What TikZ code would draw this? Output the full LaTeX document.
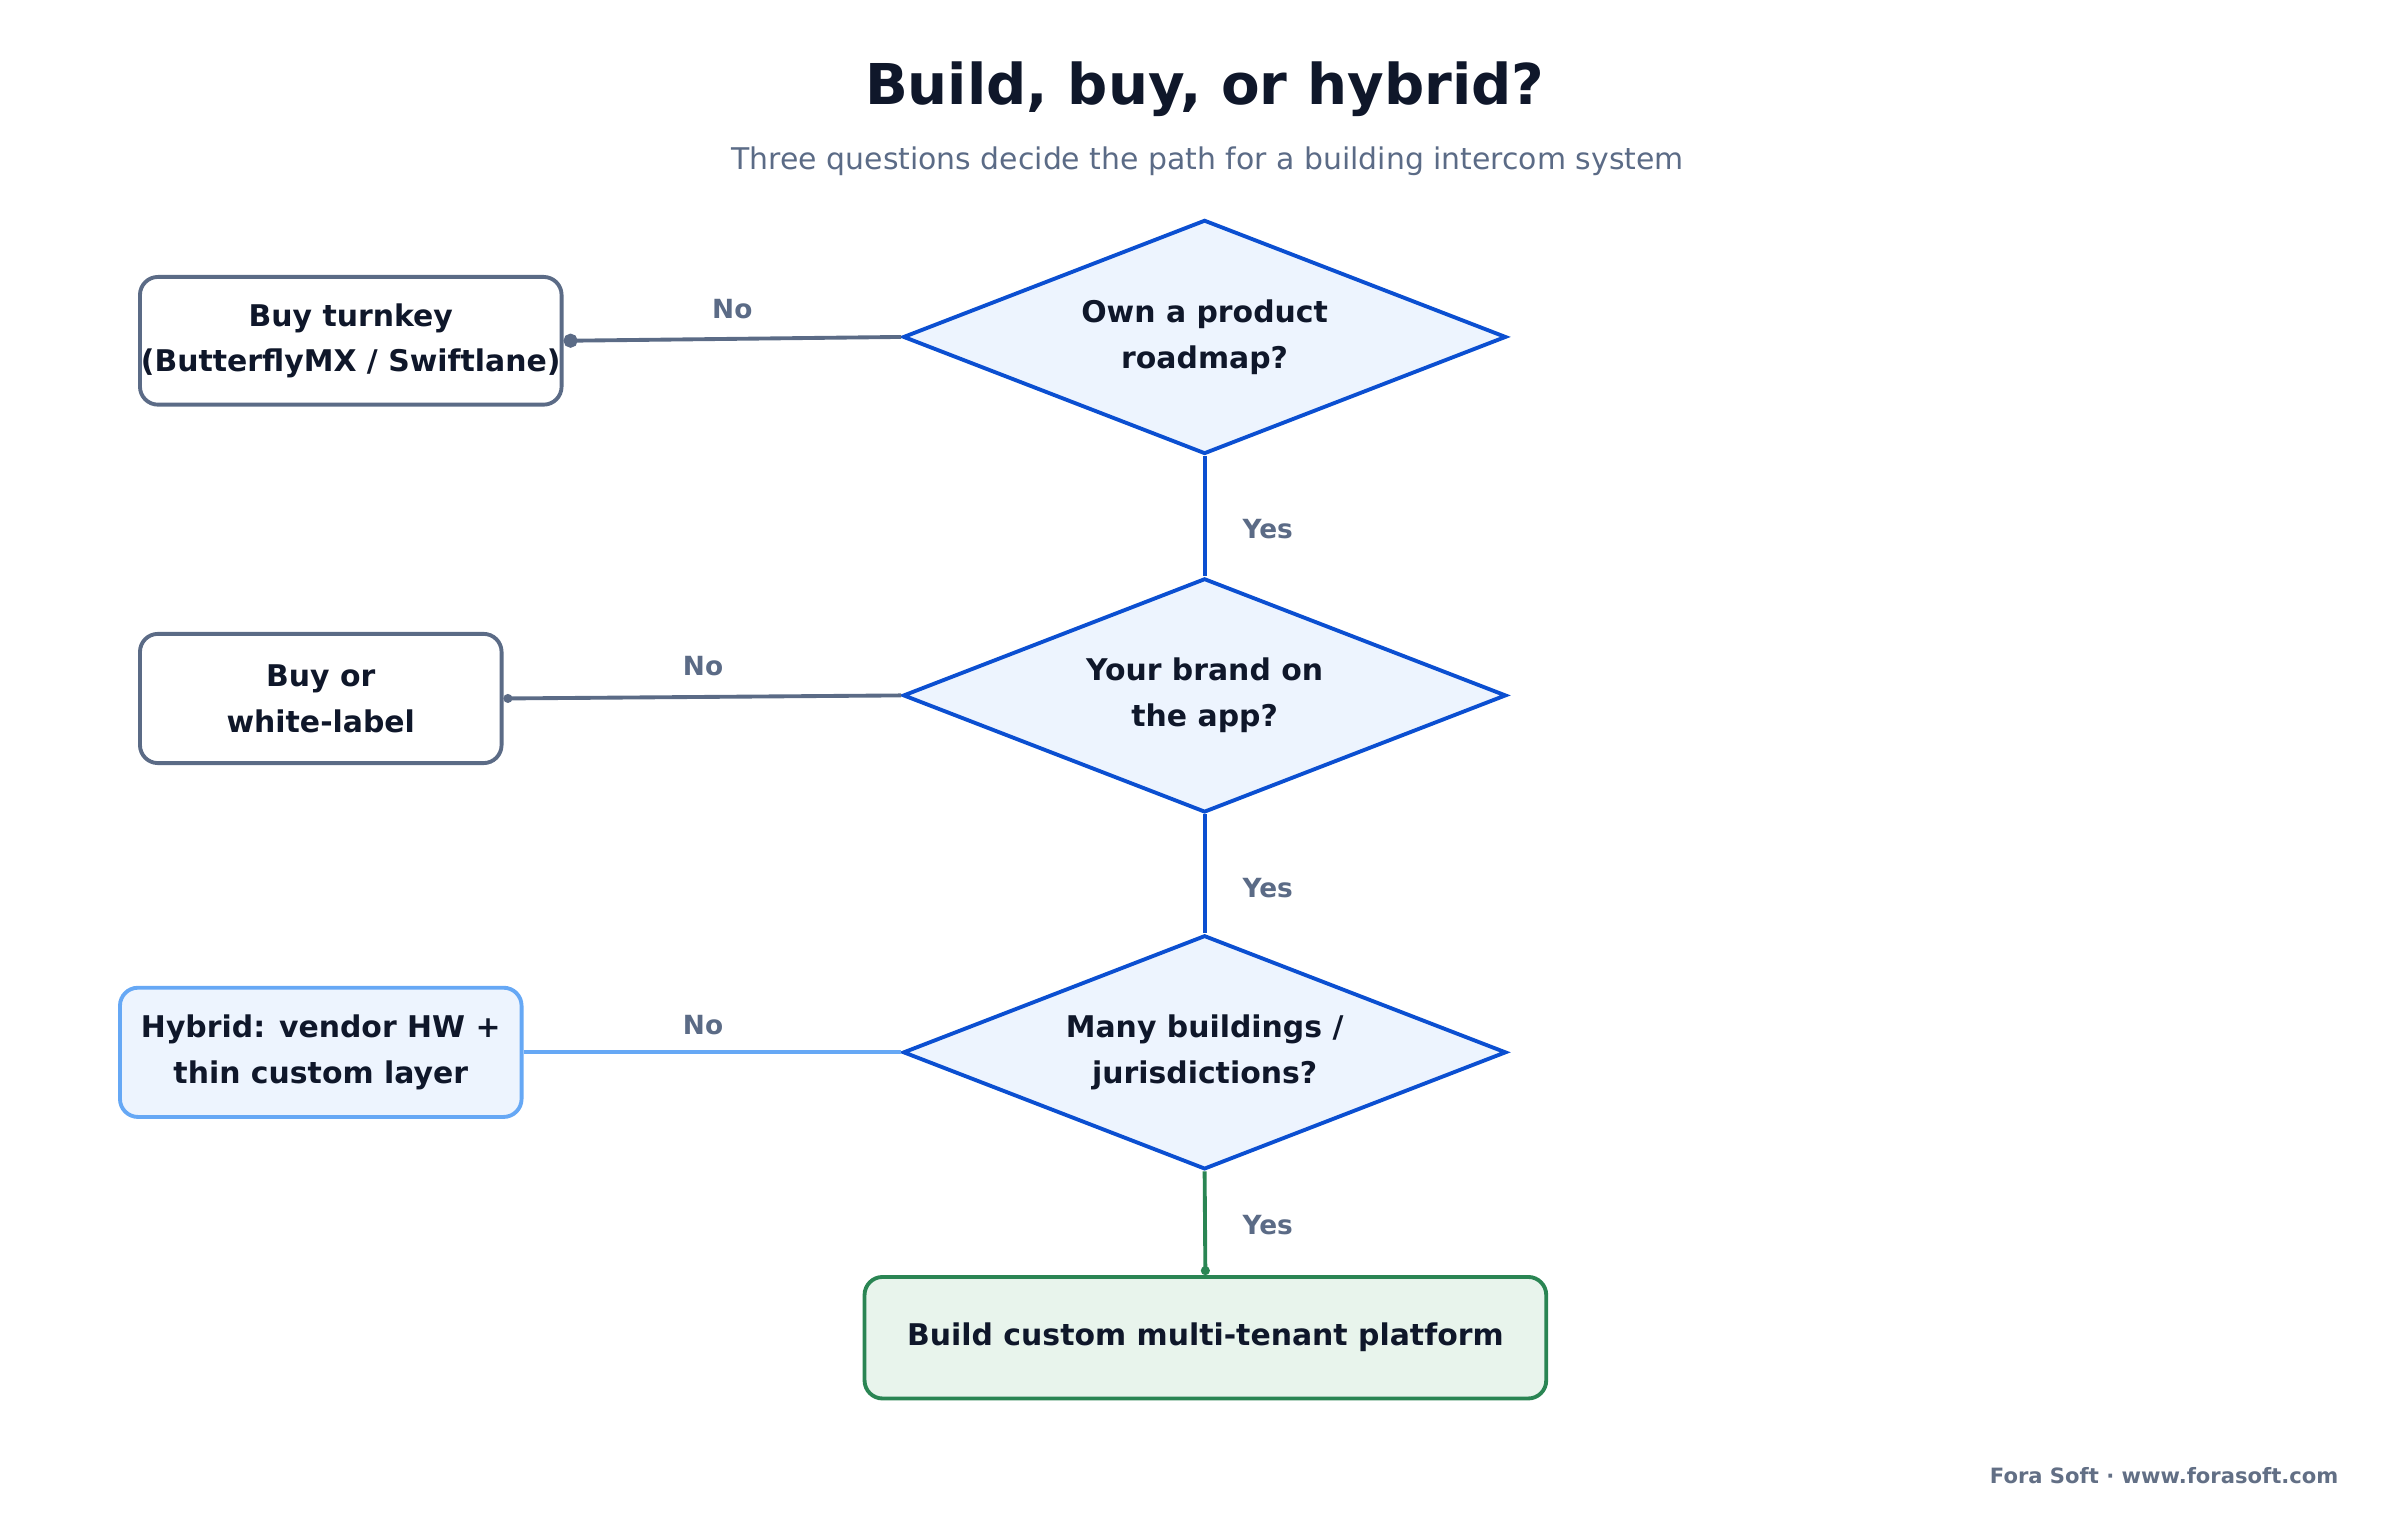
\documentclass[tikz,border=0pt]{standalone}
\usepackage{fontspec}
\setmainfont{DejaVu Sans}
\usetikzlibrary{shapes.geometric,arrows.meta}
\definecolor{qblue}{HTML}{0B4FD1}
\definecolor{qfill}{HTML}{EDF4FE}
\definecolor{slate}{HTML}{5B6B86}
\definecolor{ink}{HTML}{0F172A}
\definecolor{hyline}{HTML}{66A8F5}
\definecolor{bgreen}{HTML}{2A8553}
\definecolor{gfill}{HTML}{E8F4EC}
\begin{document}
\begin{tikzpicture}[x=0.015385cm,y=-0.015385cm,
  question/.style={diamond,draw=qblue,fill=qfill,line width=1.1pt,aspect=2.58,
    minimum width=6.03cm,minimum height=2.34cm,inner sep=0pt,align=center,
    text=ink,font=\fontsize{8.5}{13}\selectfont\bfseries},
  outcome/.style={rectangle,rounded corners=0.18cm,draw=slate,fill=white,line width=1.1pt,
    align=center,text=ink,font=\fontsize{8.5}{13}\selectfont\bfseries,inner sep=0pt},
  lbl/.style={text=slate,font=\fontsize{7.5}{9}\selectfont\bfseries}]
          \useasboundingbox (0,0) rectangle (1560,988);
          \node (title) at (783,58) [text=ink,font=\fontsize{16}{19}\selectfont\bfseries] {Build, buy, or hybrid?};
          \node (sub) at (785,105) [text=slate,font=\fontsize{8.5}{10}\selectfont] {Three questions decide the path for a building intercom system};
          % questions
          \node[question] (q1) at (783,219) {Own a product\\roadmap?};
          \node[question] (q2) at (783,452) {Your brand on\\the app?};
          \node[question] (q3) at (783,684) {Many buildings /\\jurisdictions?};
          % outcomes
          \node[outcome,minimum width=4.215cm,minimum height=1.277cm] (turnkey) at (228,221.5) {Buy turnkey\\(ButterflyMX / Swiftlane)};
          \node[outcome,minimum width=3.615cm,minimum height=1.292cm] (white) at (208.5,454) {Buy or\\white-label};
          \node[outcome,draw=hyline,fill=qfill,minimum width=4.015cm,minimum height=1.292cm] (hybrid) at (208.5,684) {Hybrid: vendor HW +\\thin custom layer};
          \node[outcome,draw=bgreen,fill=gfill,minimum width=6.815cm,minimum height=1.215cm] (build) at (783.5,869.5) {Build custom multi-tenant platform};
          % connectors
          \draw[slate,line width=1.1pt,-{Circle[length=4pt]}] (q1.west) -- (turnkey.east);
          \draw[slate,line width=1.1pt,-{Circle[length=2.5pt]}] (q2.west) -- (white.east);
          \draw[hyline,line width=1.1pt] (q3.west) -- (hybrid.east);
          \draw[qblue,line width=1.1pt] (q1.south) -- (q2.north);
          \draw[qblue,line width=1.1pt] (q2.south) -- (q3.north);
          \draw[bgreen,line width=1.1pt,-{Circle[length=2.5pt]}] (q3.south) -- (build.north);
          \node[lbl] (no1) at (476,201) {No};
          \node[lbl] (no2) at (457,433) {No};
          \node[lbl] (no3) at (457,666) {No};
          \node[lbl] (yes1) at (824,344) {Yes};
          \node[lbl] (yes2) at (824,577) {Yes};
          \node[lbl] (yes3) at (824,796) {Yes};
          \node (foot) at (1528,959) [anchor=east,text=slate!80!gray,font=\fontsize{6}{7}\selectfont\bfseries] {Fora Soft · www.forasoft.com};
        \end{tikzpicture}
\end{document}
